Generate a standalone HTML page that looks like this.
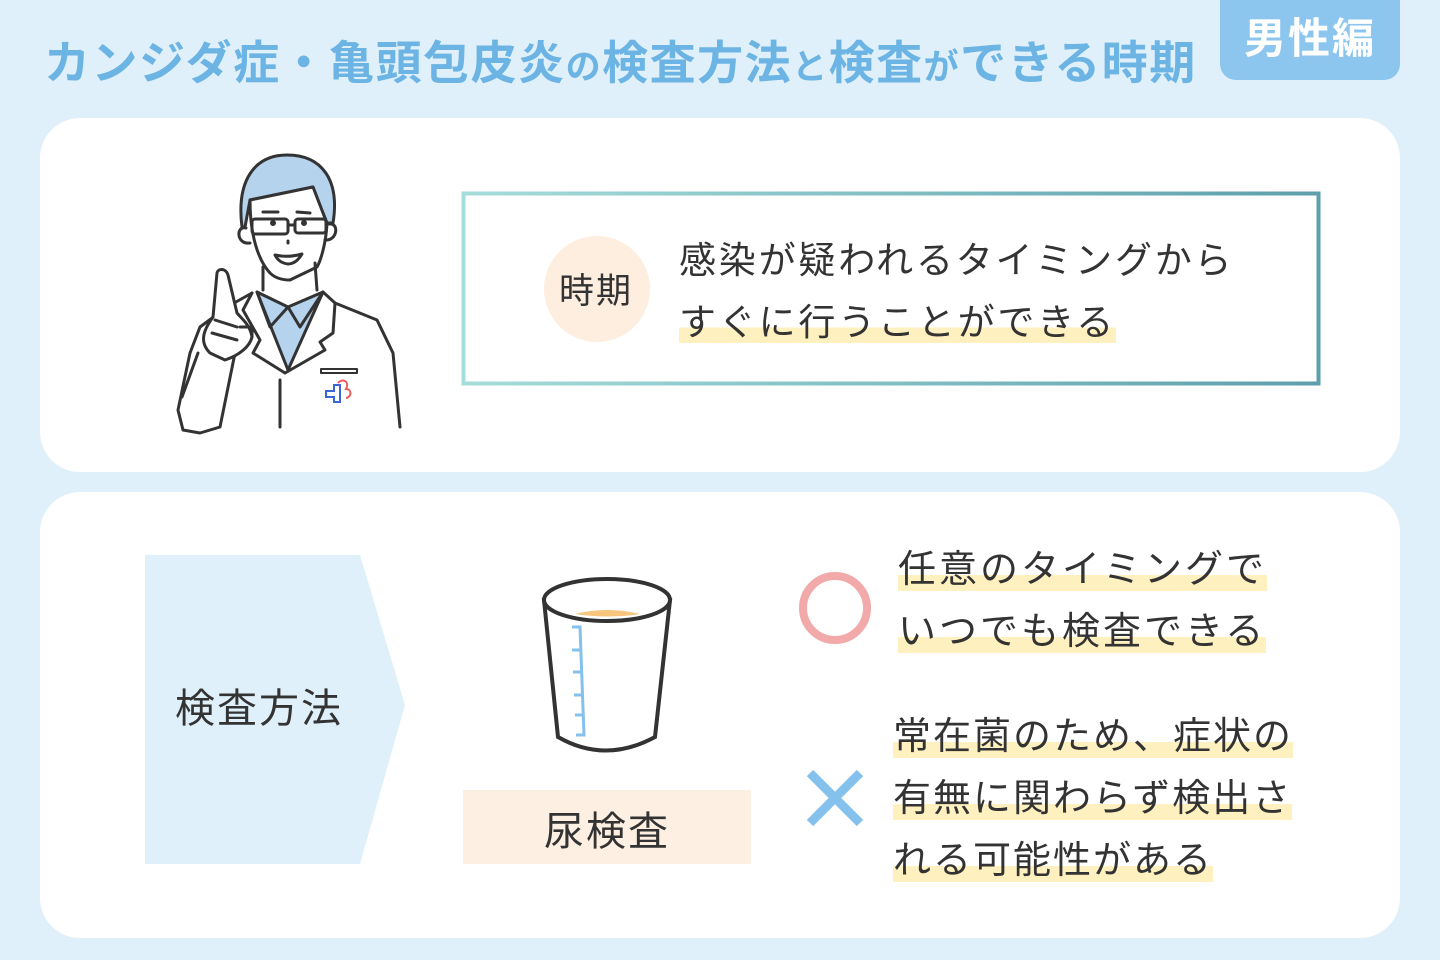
<!DOCTYPE html>
<html><head><meta charset="utf-8"><style>
*{margin:0;padding:0;box-sizing:border-box}
body{width:1440px;height:960px;background:#dff0fa;position:relative;overflow:hidden;font-family:"Liberation Sans","Noto Sans CJK JP",sans-serif;color:#333}
.abs{position:absolute}
.title{left:44px;top:27px;font-size:46px;font-weight:bold;color:#6cb4e4;white-space:nowrap;letter-spacing:1.5px}
.tag{left:1220px;top:0;width:180px;height:80px;background:#8cc6ee;border-radius:0 0 16px 16px;color:#fff;font-size:42px;font-weight:bold;text-align:center;line-height:78px;letter-spacing:2px}
.card{left:40px;width:1360px;background:#fff;border-radius:40px}
.hl{background:linear-gradient(transparent 62%,#fff1bf 62%);white-space:nowrap}
.t{font-size:38px;white-space:nowrap;line-height:62px;letter-spacing:2.5px}
</style></head><body>
<div class="abs title">カンジダ症・亀頭包皮炎<span style="font-size:35px">の</span>検査方法<span style="font-size:35px">と</span>検査<span style="font-size:35px">が</span>できる時期</div>
<div class="abs tag">男性編</div>
<div class="abs card" style="top:118px;height:354px"></div>
<div class="abs card" style="top:492px;height:446px"></div>

<svg class="abs" style="left:0;top:0" width="1440" height="960">
<defs><linearGradient id="g" x1="0" x2="1"><stop offset="0" stop-color="#a4ddd9"/><stop offset="1" stop-color="#5d9fab"/></linearGradient></defs>
<rect x="463.5" y="193.5" width="855" height="190" fill="none" stroke="url(#g)" stroke-width="4"/>
<circle cx="597" cy="289" r="53" fill="#fdeee0"/>
<g stroke="#333" stroke-width="3" fill="none" stroke-linecap="round" stroke-linejoin="round">
<path d="M242 227 C236 180 255 155 287 155 C322 155 340 180 333 223 L327 223 L323 213 L313 187 L250 200 L245 227 Z" fill="#b6d3ee"/>
<path d="M250 200 L313 187 L323 213 L327 223 C326 245 320 262 317 267 L290 280 C282 280 275 278 270 273 C258 260 250 235 250 200 Z" fill="#fff"/>
<path d="M246 228 C236 225 236 245 250 243 M329 224 C339 222 338 241 325 240"/>
<rect x="252" y="219" width="36" height="15" rx="3"/><rect x="295" y="219" width="31" height="14" rx="3"/>
<path d="M288 225 L295 225"/>
<circle cx="273" cy="223" r="1.5" fill="#333"/><circle cx="304" cy="223" r="1.5" fill="#333"/>
<path d="M263 212 L278 212 M297 212 L310 213 M288 241 L288 243"/>
<path d="M275 255 Q288 258 302 254 Q296 264 288 264 Q279 263 275 255 Z"/>
<path d="M263 267 L263 290 M315 263 L317 290"/>
<path d="M257 292 L288 307 L323 292 L288 370 Z" fill="#b6d3ee"/>
<path d="M257 292 L270 327 L288 307 L300 327 L323 292"/>
<path d="M252 293 L243 310 L260 340 L253 353 L285 373 M323 292 L335 303 L333 333 L320 342 L325 350 L285 373"/>
<path d="M280 380 L280 427"/>
<path d="M335 303 L377 320 L393 353 L400 427"/>
<path d="M252 293 L227 307 L200 327 L190 353 L178 410 L183 430 L200 433 L220 427 L235 353"/>
<path d="M182 397 L198 353"/>
<path d="M217 273 C218 268 226 268 228 275 L237 313 C243 320 250 325 252 337 C250 346 240 355 225 360 L210 353 C200 343 202 332 213 317 L217 273" fill="#fff"/>
<path d="M215 320 L237 327 M212 333 L237 340 M240 327 L252 327 L252 337"/>
<rect x="321" y="369" width="36" height="4" stroke-width="2"/>
</g>
<g stroke-width="2" fill="none"><path d="M326 391 h8 v-6 h6 v17 h-6 v-5 h-8 z" stroke="#3a66d8"/><path d="M338 383 c4-5 12-2 8 6 c6 0 6 8 0 9" stroke="#ef5a5a"/></g>
<polygon points="145,555 360,555 405,705 360,864 145,864" fill="#dff0fa"/>
<g stroke="#333" stroke-width="4" fill="#fff">
<path d="M544 600 L558 737 Q605 764 655 737 L670 600 Z"/>
<ellipse cx="607" cy="600" rx="63" ry="21"/>
</g>
<path d="M575 614 Q607 606 640 614 Q607 619 575 614 Z" fill="#f8c57e"/>
<path d="M572 627 h8 l4 108 h-8 M572 650 h9 M573 672 h9 M574 695 h9 M575 715 h9" stroke="#84c1ec" stroke-width="3" fill="none"/>
<rect x="463" y="790" width="288" height="74" fill="#fdefe2"/>
<circle cx="835" cy="608" r="32" fill="none" stroke="#f2a9a9" stroke-width="8"/>
<path d="M810 773 L860 823 M860 773 L810 823" stroke="#84c1ec" stroke-width="9"/>
</svg>

<div class="abs" style="left:559px;top:263px;font-size:35px;letter-spacing:2px">時期</div>
<div class="abs t" style="left:679px;top:230px;font-size:37px;letter-spacing:2.8px"><div>感染が疑われるタイミングから</div><div><span class="hl">すぐに行うことができる</span></div></div>
<div class="abs" style="left:175px;top:676px;font-size:40px;letter-spacing:2px">検査方法</div>
<div class="abs" style="left:544px;top:799px;font-size:40px;letter-spacing:2px">尿検査</div>
<div class="abs t" style="left:898px;top:539px;letter-spacing:3px"><div><span class="hl">任意のタイミングで</span></div><div><span class="hl">いつでも検査できる</span></div></div>
<div class="abs t" style="left:893px;top:706px;letter-spacing:2px"><div><span class="hl">常在菌のため、症状の</span></div><div><span class="hl">有無に関わらず検出さ</span></div><div><span class="hl">れる可能性がある</span></div></div>
</body></html>
